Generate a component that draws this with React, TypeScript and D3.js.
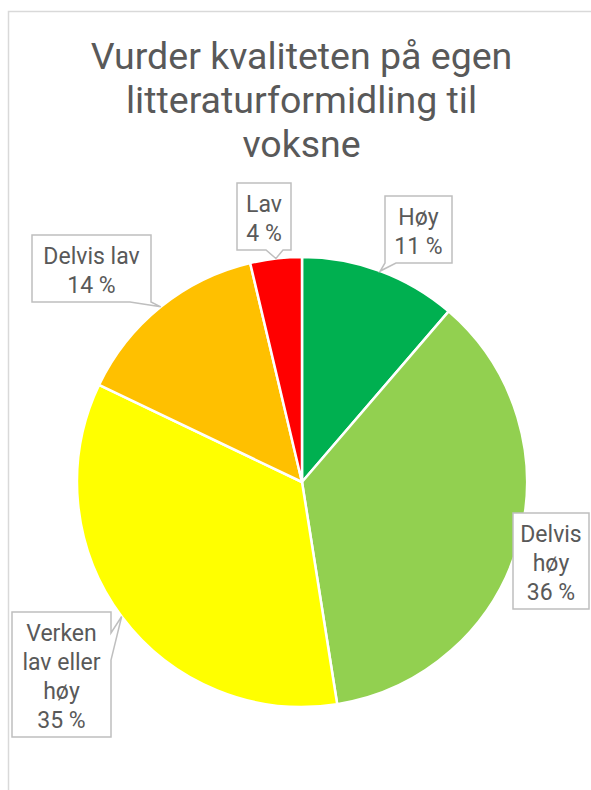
import React from "react";
import * as d3 from "d3";

const title = ["Vurder kvaliteten på egen", "litteraturformidling til", "voksne"];
const categories = ["Høy", "Delvis høy", "Verken lav eller høy", "Delvis lav", "Lav"];
const values = [11.3, 36.2, 34.6, 14.2, 3.7];
const labelLines = [["Høy"], ["Delvis", "høy"], ["Verken", "lav eller", "høy"], ["Delvis lav"], ["Lav"]];
const colors = ["#00B050", "#92D050", "#FFFF00", "#FFC000", "#FF0000"];

// callout box layout: box left/top/width, tail side and base coordinates along that side
const boxLayout = [
  { x: 385, y: 196, w: 67, side: "bottom", b1: 385, b2: 396 },
  { x: 513, y: 513, w: 76, side: "none", b1: 0, b2: 0 },
  { x: 12, y: 612, w: 99, side: "right", b1: 633, b2: 660 },
  { x: 32, y: 235, w: 119, side: "bottom", b1: 130, b2: 151 },
  { x: 237, y: 183, w: 54, side: "bottom", b1: 266, b2: 283 },
];

const W = 591;
const H = 790;
const cx = 302;
const cy = 482;
const R = 225;
const LINE = 29;
const FONT = "Roboto, 'Noto Sans', sans-serif";
const TEXT = "#595959";

function calloutPath(b: { x: number; y: number; w: number; side: string; b1: number; b2: number }, h: number, tip: [number, number]) {
  const x0 = b.x, y0 = b.y, x1 = b.x + b.w, y1 = b.y + h;
  const p = d3.path();
  p.moveTo(x0, y0);
  p.lineTo(x1, y0);
  if (b.side === "right") {
    p.lineTo(x1, b.b1);
    p.lineTo(tip[0], tip[1]);
    p.lineTo(x1, b.b2);
  }
  p.lineTo(x1, y1);
  if (b.side === "bottom") {
    p.lineTo(b.b2, y1);
    p.lineTo(tip[0], tip[1]);
    p.lineTo(b.b1, y1);
  }
  p.lineTo(x0, y1);
  p.closePath();
  return p.toString();
}

export default function App() {
  const pie = d3.pie<number>().sort(null).value((d) => d).startAngle(0).endAngle(2 * Math.PI);
  const arcs = pie(values);
  const arc = d3.arc<d3.PieArcDatum<number>>().innerRadius(0).outerRadius(R);

  return (
    <svg width={W} height={H} style={{ position: "absolute", left: 0, top: 0 }} fontFamily={FONT}>
      <rect x={0} y={0} width={W} height={H} fill="#fff" />
      <rect x={8.5} y={11.5} width={700} height={900} fill="#fff" stroke="#D9D9D9" strokeWidth={1.5} />
      <g fill={TEXT} fontSize={37.5} textAnchor="middle">
        {title.map((t, i) => (
          <text key={i} x={301.5} y={68.5 + i * 44.3}>{t}</text>
        ))}
      </g>
      <g transform={`translate(${cx},${cy})`}>
        {arcs.map((a, i) => (
          <path key={categories[i]} d={arc(a) || ""} fill={colors[i]} stroke="#fff" strokeWidth={2.5} strokeLinejoin="round" />
        ))}
      </g>
      {arcs.map((a, i) => {
        const mid = (a.startAngle + a.endAngle) / 2;
        const tip: [number, number] = [cx + R * Math.sin(mid), cy - R * Math.cos(mid)];
        const b = boxLayout[i];
        const lines = [...labelLines[i], `${Math.round(values[i])} %`];
        const h = lines.length * LINE + 9;
        return (
          <g key={"lbl" + i}>
            <path d={calloutPath(b, h, tip)} fill="#fff" stroke="#BFBFBF" strokeWidth={1.5} />
            {lines.map((l, j) => (
              <text key={j} x={b.x + b.w / 2} y={b.y + 28.5 + j * LINE} fontSize={23} fill={TEXT} textAnchor="middle">
                {l}
              </text>
            ))}
          </g>
        );
      })}
    </svg>
  );
}
